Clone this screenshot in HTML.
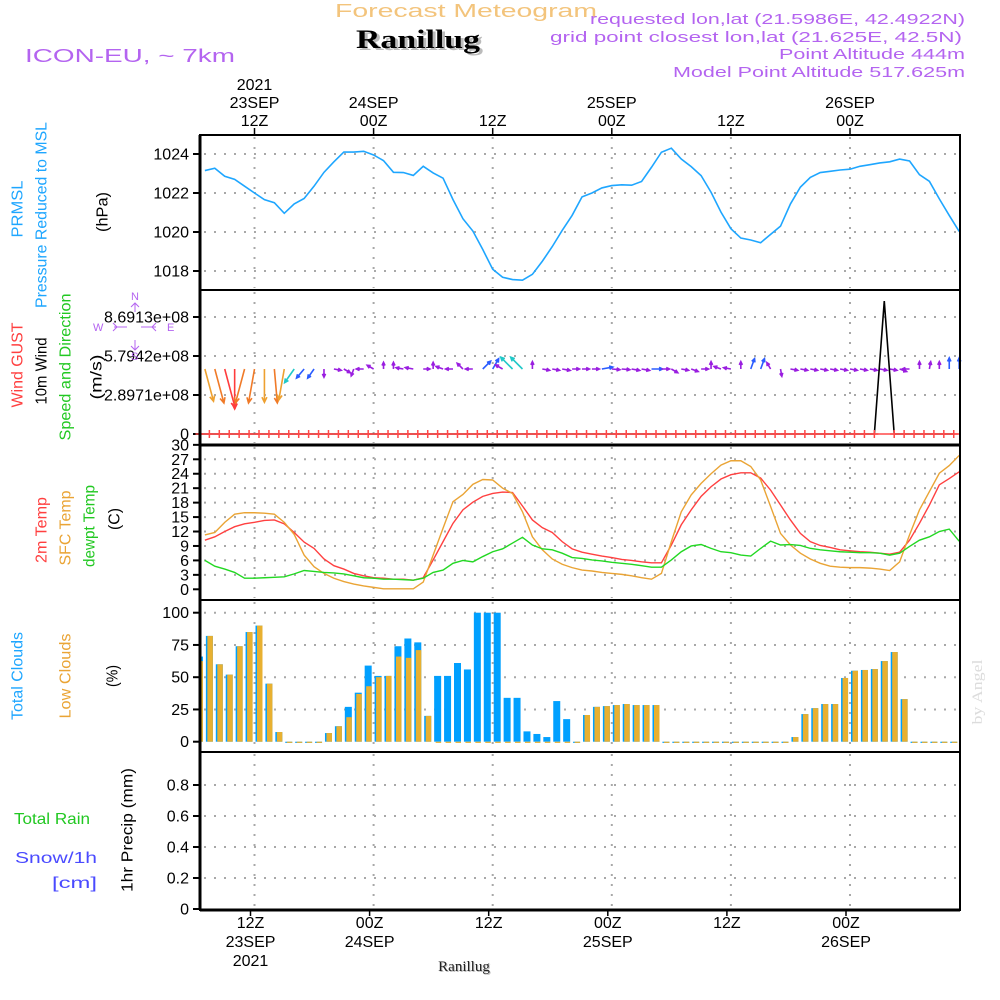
<!DOCTYPE html>
<html><head><meta charset="utf-8"><title>Meteogram Ranillug</title>
<style>
html,body{margin:0;padding:0;background:#fff;}
svg{display:block;font-family:"Liberation Sans",sans-serif;}
</style></head>
<body>
<svg id="chart" width="1000" height="1000" viewBox="0 0 1000 1000" xmlns="http://www.w3.org/2000/svg">
  <rect x="0" y="0" width="1000" height="1000" fill="#fff"/>
  <!-- header -->
  <text x="335" y="17" font-size="18" fill="#f3c47c" textLength="262" lengthAdjust="spacingAndGlyphs">Forecast Meteogram</text>
  <text x="359" y="50" font-size="26" font-weight="bold" font-family="Liberation Serif, serif" fill="#bbb" textLength="124" lengthAdjust="spacingAndGlyphs">Ranillug</text>
  <text x="356" y="48" font-size="26" font-weight="bold" font-family="Liberation Serif, serif" fill="#000" textLength="124" lengthAdjust="spacingAndGlyphs">Ranillug</text>
  <text x="25" y="62" font-size="18" fill="#b464f0" textLength="210" lengthAdjust="spacingAndGlyphs">ICON-EU, ~ 7km</text>
  <text x="965" y="24" font-size="15" fill="#b464f0" text-anchor="end" textLength="375" lengthAdjust="spacingAndGlyphs">requested lon,lat (21.5986E, 42.4922N)</text>
  <text x="962" y="42" font-size="15" fill="#b464f0" text-anchor="end" textLength="412" lengthAdjust="spacingAndGlyphs">grid point closest lon,lat (21.625E, 42.5N)</text>
  <text x="965" y="59" font-size="15" fill="#b464f0" text-anchor="end" textLength="186" lengthAdjust="spacingAndGlyphs">Point Altitude 444m</text>
  <text x="965" y="77" font-size="15" fill="#b464f0" text-anchor="end" textLength="292" lengthAdjust="spacingAndGlyphs">Model Point Altitude 517.625m</text>
  <g id="layer"></g>
</svg>
<script>
// ---------- data ----------
const tickHours = [12, 24, 36, 48, 60, 72];
const topTickLabels = [["2021","23SEP","12Z"],["24SEP","00Z"],["12Z"],["25SEP","00Z"],["12Z"],["26SEP","00Z"]];
const bottomTickLabels = [["12Z","23SEP","2021"],["00Z","24SEP"],["12Z"],["00Z","25SEP"],["12Z"],["00Z","26SEP"]];
// line series start at hour 7 (07Z 23SEP), hourly
const pressure = [1023.15,1023.27,1022.86,1022.7,1022.35,1022.0,1021.66,1021.5,1020.96,1021.44,1021.72,1022.35,1023.06,1023.6,1024.1,1024.1,1024.14,1023.95,1023.66,1023.06,1023.05,1022.9,1023.37,1023.03,1022.76,1021.66,1020.68,1020.05,1019.1,1018.09,1017.68,1017.56,1017.53,1017.83,1018.5,1019.25,1020.08,1020.85,1021.8,
1022.0,1022.26,1022.38,1022.42,1022.4,1022.59,1023.32,1024.09,1024.3,1023.74,1023.35,1022.89,1022.04,1021.02,1020.17,1019.69,1019.59,1019.45,1019.88,1020.3,1021.44,1022.3,1022.8,1023.05,1023.11,1023.18,1023.22,1023.37,1023.45,1023.54,1023.6,1023.74,1023.64,1022.94,1022.6,1021.7,1020.85,1020.03];
const temp2m = [10.2,10.9,12,13,13.6,13.9,14.3,14.4,13.6,11.8,9.8,8.5,6.3,4.9,4.2,3.3,2.8,2.4,2.3,2.1,2.1,1.9,2.4,6.1,9.9,13.7,16.5,18.1,19.3,19.9,20.2,20.1,17.3,14.4,12.8,11.8,9.9,8.4,7.7,
7.3,6.9,6.6,6.2,6.0,5.7,5.5,5.5,9.2,13.4,16.5,19.3,21.3,22.9,23.8,24.2,24.2,23.1,20.6,17.5,14.4,11.6,9.9,9.1,8.7,8.2,8.0,7.8,7.7,7.5,7.3,7.7,10.2,13.7,17.5,21.7,23.0,24.4];
const tempSfc = [11.3,11.8,13.9,15.6,15.9,15.9,15.8,15.6,13.9,11.4,7.1,4.7,3.3,2.3,1.6,1.1,0.7,0.4,0.1,0.1,0.1,0.1,1.5,7.1,12.7,18.2,19.7,21.8,22.8,22.7,21,19.9,16.1,10.9,8.2,6.3,5.2,4.5,4.0,
3.8,3.5,3.3,3.1,2.8,2.4,2.1,3.3,9.9,16.1,19.6,22.0,24.0,25.8,26.7,26.7,25.5,22.7,17.2,11.6,9.2,7.5,6.3,5.4,4.8,4.6,4.5,4.5,4.4,4.2,3.9,5.7,11.3,16.5,20.3,24.1,25.7,27.8];
const tempDew = [6,4.8,4.2,3.5,2.3,2.3,2.4,2.5,2.6,3.2,3.9,3.7,3.5,3.4,3.2,2.8,2.4,2.3,2.1,2.1,2.0,1.9,2.3,3.5,4.0,5.4,6.0,5.7,6.8,7.8,8.4,9.6,10.8,9.2,8.4,8.2,7.5,6.6,6.4,
6.1,5.9,5.6,5.4,5.2,4.9,4.6,4.6,6.1,7.8,9.0,9.3,8.5,7.8,7.6,7.1,6.9,8.5,10.0,9.2,9.3,9.1,8.5,8.2,8.0,7.8,7.7,7.6,7.6,7.5,7.1,7.5,8.9,10.2,10.9,12.0,12.5,10.0];
// wind (hour 7..83): direction the arrow points (deg, 0 = up/north), speed m/s
const windDir = [165,165,165,180,195,190,180,175,190,215,220,215,180,100,120,200,270,300,0,0,280,280,90,0,290,270,315,270,45,30,300,315,315,0,100,100,100,90,90,90,80,95,95,100,100,90,90,120,100,110,90,0,290,280,0,20,20,330,170,100,100,100,100,100,100,100,100,100,100,100,110,270,0,10,0,0,0];
const windSpeed = [9,9.5,10.8,10.8,9.5,9.3,9,9.2,8.5,4.5,3.2,3,2.2,2,2,2,2,2,1.8,1.8,2,2.2,1.8,1.8,2,2,2.2,2,3,3.2,2.2,4.5,4.5,2,2,2,2.2,2,2,2,3,2.2,2.2,2.2,2.2,3,2.2,2,2,2,2,2,2,2,2,3,3,2,2,2,2,2,2,2,2,2,2,2,2,2,2,2,2,2,2,3,3];
// hour-ending quantities, hour 6..82
const gust = [0,0,0,0,0,0,0,0,0,0,0,0,0,0,0,0,0,0,0,0,0,0,0,0,0,0,0,0,0,0,0,0,0,0,0,0,0,0,0,0,0,0,0,0,0,0,0,0,0,0,0,0,0,0,0,0,0,0,0,0,0,0,0,0,0,0,0,0,0,9.88e8,0,0,0,0,0,0,0];
const totalClouds = [66,82,60,52,74,85,90,45,7.5,0,0,0,0,6.7,12,27,38,59,51,51,74,80,77,20,51,51,61,56,100,100,100,34,34,8,6,3.6,31.5,17.5,0,20.7,27,27.6,28.4,29.2,28.4,28.4,28.4,0,0,0,0,0,0,0,0,0,0,0,0,0,3.6,21.4,26,29.2,29.2,49.4,55,55.6,56.3,62.5,69.5,33,0,0,0,0,0];
const lowClouds = [62.5,82,60,52,74,85,90,45,7.5,0,0,0,0,6.7,12,19,37,43,50,51,66,65,71,20,0,0,0,0,0,0,0,0,0,0,0,0,0,0,0,20.7,27,27.6,28.4,29.2,28.4,28.4,28.4,0,0,0,0,0,0,0,0,0,0,0,0,0,3.6,21.4,26,29.2,29.2,49.4,55,55.6,56.3,62.5,69.5,33,0,0,0,0,0];
const precip = [];
const pressureTicks = [1018,1020,1022,1024];
const windTicks = [0, 2.8971e8, 5.7942e8, 8.6913e8];
const windTickLabels = ["0","2.8971e+08","5.7942e+08","8.6913e+08"];
const tempTicks = [0,3,6,9,12,15,18,21,24,27,30];
const cloudTicks = [0,25,50,75,100];
const precipTicks = [0,0.2,0.4,0.6,0.8];
const precipTickLabels = ["0","0.2","0.4","0.6","0.8"];

// ---------- scales ----------
const PX_L = 200, PX_R = 960;
function xH(h){ return 254.5 + (h - 12) * 9.925; }
function yP(p){ return 154 + (1024 - p) * 19.5; }
function yW(v){ return 434 - v / 2.8971e8 * 39; }
function yT(t){ return 589.3 - t * 4.815; }
function yC(c){ return 741.7 - c * 1.29; }
function yR(r){ return 909 - r * 155; }
const panels = [
  {name:'pressure-panel', y0:135, y1:290},
  {name:'wind-panel', y0:290, y1:445},
  {name:'temperature-panel', y0:445, y1:600},
  {name:'clouds-panel', y0:600, y1:752},
  {name:'precip-panel', y0:752, y1:910}
];

const NS = 'http://www.w3.org/2000/svg';
const layer = document.getElementById('layer');
function mk(tag, attrs, parent){
  const e = document.createElementNS(NS, tag);
  for (const k in attrs) e.setAttribute(k, attrs[k]);
  (parent || layer).appendChild(e);
  return e;
}
function txt(str, attrs, parent){
  const e = mk('text', attrs, parent);
  e.textContent = str;
  return e;
}
const GRID = {stroke:'#a8a8a8','stroke-width':2,'stroke-dasharray':'2 8',fill:'none'};

// ---------- grids ----------
panels.forEach(function(p){
  const g = mk('g', {});
  
  
  tickHours.forEach(function(h){
    mk('line', Object.assign({x1:xH(h), x2:xH(h), y1:p.y0+2, y2:p.y1-2}, GRID), g);
  });
});
function hgrid(vals, fy, name){
  const g = mk('g', {});
  
  
  vals.forEach(function(v){
    mk('line', Object.assign({x1:PX_L+4, x2:PX_R-2, y1:fy(v), y2:fy(v)}, GRID), g);
  });
}
hgrid(pressureTicks, yP, 'pressure-hgrid');
hgrid(windTicks.slice(1), yW, 'wind-hgrid');
hgrid(tempTicks.slice(1,10), yT, 'temperature-hgrid');
hgrid(cloudTicks.slice(1), yC, 'clouds-hgrid');
hgrid(precipTicks.slice(1), yR, 'precip-hgrid');

// ---------- y tick labels ----------
function yticks(vals, labels, fy, name){
  const g = mk('g', {});
  
  
  vals.forEach(function(v, i){
    const y = fy(v);
    mk('line', {x1:193, x2:200, y1:y, y2:y, stroke:'#000','stroke-width':2}, g);
    txt(labels[i], {x:189, y:y+5.5, 'font-size':16, 'text-anchor':'end', fill:'#000'}, g);
  });
}
yticks(pressureTicks, pressureTicks.map(String), yP, 'pressure-y-ticks');
yticks(windTicks, windTickLabels, yW, 'wind-y-ticks');
yticks(tempTicks, tempTicks.map(String), yT, 'temperature-y-ticks');
yticks(cloudTicks, cloudTicks.map(String), yC, 'clouds-y-ticks');
yticks(precipTicks, precipTickLabels, yR, 'precip-y-ticks');

// ---------- pressure ----------
const pLine = mk('polyline', {points: pressure.map(function(v,i){return xH(7+i)+','+yP(v);}).join(' '), fill:'none', stroke:'#1ea6ff','stroke-width':1.6});



// ---------- wind ----------
function windColor(s){
  if (s >= 10.5) return '#ff3c3c';
  if (s >= 9.2) return '#f07a28';
  if (s >= 7) return '#eea030';
  if (s >= 4) return '#20c8c8';
  if (s >= 2.6) return '#2a5cff';
  return '#9a1ee0';
}
const wg = mk('g', {});


windDir.forEach(function(d, i){
  const s = windSpeed[i];
  const len = s * 3.7;
  const a = d * Math.PI / 180;
  const x0 = xH(7+i), y0 = 369;
  const x1 = x0 + Math.sin(a)*len, y1 = y0 - Math.cos(a)*len;
  const c = windColor(s);
  const hl = Math.min(6, 3 + s*0.3);
  const b1 = a + Math.PI - 0.45, b2 = a + Math.PI + 0.45;
  const path = 'M'+x0+','+y0+'L'+x1+','+y1+
    'M'+(x1+Math.sin(b1)*hl)+','+(y1-Math.cos(b1)*hl)+'L'+x1+','+y1+'L'+(x1+Math.sin(b2)*hl)+','+(y1-Math.cos(b2)*hl);
  const el = mk('path', {d:path, stroke:c, 'stroke-width':1.6, fill:'none'}, wg);
  
  
});
const gLine = mk('polyline', {points: gust.map(function(v,i){return (xH(6+i)+4.5)+','+yW(v);}).join(' '), fill:'none', stroke:'#000','stroke-width':1.6});


const baseG = mk('g', {});


mk('line', {x1:PX_L, x2:PX_R, y1:yW(0), y2:yW(0), stroke:'#ff4848','stroke-width':1.5}, baseG);
gust.forEach(function(v, i){
  if (v !== 0) return;
  const x = xH(6+i)+4.5, y = yW(0);
  mk('path', {d:'M'+(x-4)+','+y+'L'+(x+4)+','+y+'M'+x+','+(y-4)+'L'+x+','+(y+4), stroke:'#ff4848','stroke-width':1.5}, baseG);
});
// compass rose
const cg = mk('g', {fill:'#b464f0','font-size':11});


txt('N', {x:131, y:300}, cg);
txt('S', {x:131, y:360}, cg);
txt('W', {x:93, y:331}, cg);
txt('E', {x:167, y:331}, cg);
mk('path', {d:'M114,327H127M141,327H156M135,303V312M135,340V350M113,323L117,327L113,331M156,323L152,327L156,331M131,307L135,303L139,307M131,346L135,350L139,346', stroke:'#b464f0','stroke-width':1,fill:'none'}, cg);

// ---------- temperatures ----------
[[temp2m,'#ff4040','temp-2m-line'],[tempSfc,'#eaa435','temp-sfc-line'],[tempDew,'#22d822','dewpoint-line']].forEach(function(s){
  const el = mk('polyline', {points: s[0].map(function(v,i){return xH(7+i)+','+yT(v);}).join(' '), fill:'none', stroke:s[1], 'stroke-width':1.4});
  
  
});

// ---------- clouds ----------
const cgB = mk('g', {});


totalClouds.forEach(function(v, i){
  const cx = xH(6+i) + 4.5;
  const y0 = yC(0);
  const bt = mk('rect', {x:Math.max(PX_L, cx-3.5), y:yC(v), width:Math.max(0, Math.min(7, cx+3.5-PX_L)), height:Math.max(1.2, y0-yC(v)), fill:'#00a0ff'}, cgB);
  
  
  const lv = lowClouds[i];
  const bl = mk('rect', {x:Math.max(PX_L, cx-2), y:yC(lv), width:Math.max(0, Math.min(5.5, cx+3.5-PX_L)), height:Math.max(1.2, y0-yC(lv)), fill:'#e8b030'}, cgB);
  
  
});

// ---------- precip ----------
const prB = mk('g', {});


precip.forEach(function(v, i){
  const cx = xH(6+i) + 4.5;
  const r = mk('rect', {x:cx-3.5, y:yR(v), width:7, height:yR(0)-yR(v), fill:'#20d020'}, prB);
  
  
});

// ---------- frames ----------
panels.forEach(function(p){
  const r = mk('rect', {x:PX_L, y:p.y0, width:PX_R-PX_L, height:p.y1-p.y0, fill:'none', stroke:'#000', 'stroke-width':2});
  
  
});
mk('line', {x1:PX_L, x2:PX_L, y1:135, y2:910, stroke:'#000', 'stroke-width':3});
mk('line', {x1:PX_L, x2:PX_R, y1:445, y2:445, stroke:'#000', 'stroke-width':3});
mk('line', {x1:PX_L, x2:PX_R, y1:910, y2:910, stroke:'#000', 'stroke-width':3});

// ---------- x axes ----------
const tg = mk('g', {'font-size':16, 'text-anchor':'middle', fill:'#000'});


tickHours.forEach(function(h, i){
  const x = xH(h);
  mk('line', {x1:x, x2:x, y1:128, y2:135, stroke:'#000','stroke-width':1.5}, tg);
  const labs = topTickLabels[i];
  labs.forEach(function(l, j){
    txt(l, {x:x, y:127 - (labs.length-1-j)*18 - 1}, tg);
  });
});
const bg = mk('g', {'font-size':16, 'text-anchor':'middle', fill:'#000'});


tickHours.forEach(function(h, i){
  const x = xH(h) - 4;
  mk('line', {x1:x, x2:x, y1:910, y2:916, stroke:'#000','stroke-width':1.5}, bg);
  bottomTickLabels[i].forEach(function(l, j){
    txt(l, {x:x, y:928 + j*19}, bg);
  });
});
txt('Ranillug', {x:465, y:972, 'font-size':15, 'font-family':'Liberation Serif, serif', fill:'#bbb', 'text-anchor':'middle'});
const bt2 = txt('Ranillug', {x:464, y:971, 'font-size':15, 'font-family':'Liberation Serif, serif', fill:'#222', 'text-anchor':'middle'});



// ---------- rotated side labels ----------
const side = [
  ['PRMSL',18,209,57,'#1ea6ff','prmsl-label'],
  ['Pressure  Reduced to MSL',42,215,186,'#1ea6ff','pressure-axis-title'],
  ['(hPa)',103,212,40,'#000','pressure-unit'],
  ['Wind GUST',18,365,85,'#ff4040','wind-gust-label'],
  ['10m Wind',42,371,67,'#000','wind-axis-title'],
  ['Speed and Direction',66,367,147,'#22c822','wind-speed-direction-label'],
  ['(m/s)',97,377,45,'#000','wind-unit'],
  ['2m Temp',42,530,66,'#ff4040','temp-2m-label'],
  ['SFC Temp',66,528,75,'#eaa435','temp-sfc-label'],
  ['dewpt Temp',90,526,82,'#22c822','dewpoint-label'],
  ['(C)',115,519,22,'#000','temperature-unit'],
  ['Total Clouds',18,676,88,'#1ea6ff','total-clouds-label'],
  ['Low Clouds',66,676,85,'#eaa435','low-clouds-label'],
  ['(%)',113,676,22,'#000','clouds-unit'],
  ['1hr Precip (mm)',128,830,124,'#000','precip-axis-title']
];
side.forEach(function(s){
  const e = txt(s[0], {transform:'translate('+s[1]+','+s[2]+') rotate(-90)', 'text-anchor':'middle', 'dominant-baseline':'central', 'font-size':16, fill:s[4], textLength:s[3], lengthAdjust:'spacingAndGlyphs'});
  
  
});
const ang = txt('by Angel', {transform:'translate(978,692) rotate(-90)', 'text-anchor':'middle', 'dominant-baseline':'central', 'font-size':15, 'font-family':'Liberation Serif, serif', fill:'#dcdcdc', textLength:65, lengthAdjust:'spacingAndGlyphs'});


const r1 = txt('Total  Rain', {x:14, y:824, 'font-size':16, fill:'#22c822', textLength:76, lengthAdjust:'spacingAndGlyphs'});


const r2 = txt('Snow/1h', {x:15, y:863, 'font-size':16, fill:'#4a4aff', textLength:82, lengthAdjust:'spacingAndGlyphs'});


const r3 = txt('[cm]', {x:52, y:888, 'font-size':16, fill:'#4a4aff', textLength:45, lengthAdjust:'spacingAndGlyphs'});


</script>
</body></html>
